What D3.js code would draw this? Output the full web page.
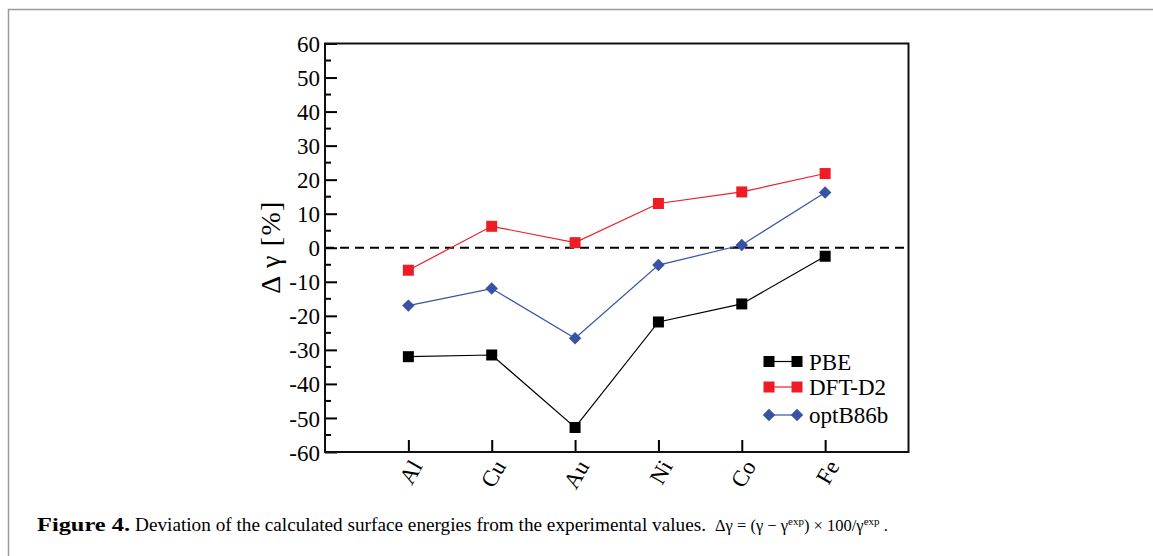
<!DOCTYPE html>
<html>
<head>
<meta charset="utf-8">
<script src="https://cdn.jsdelivr.net/npm/d3@7"></script>
<style>
  body { margin: 0; background: #fff; }
  text { font-family: "Liberation Serif", "Times New Roman", serif; fill: #000; }
</style>
</head>
<body>
<script>
//categories and series values (surface energy deviation, %)
var metals = ["Al", "Cu", "Au", "Ni", "Co", "Fe"];
var pbe = [-32.0, -31.5, -52.8, -21.8, -16.5, -2.5];
var dftD2 = [-6.6, 6.3, 1.5, 13.0, 16.4, 21.8];
var optB86b = [-17.0, -12.0, -26.6, -5.1, 0.8, 16.2];
var yTicks = [-60, -50, -40, -30, -20, -10, 0, 10, 20, 30, 40, 50, 60];

var seriesList = [
    { name: "PBE", values: pbe, color: "#000000", shape: "square" },
    { name: "DFT-D2", values: dftD2, color: "#ee1c25", shape: "square" },
    { name: "optB86b", values: optB86b, color: "#3953a4", shape: "diamond" }
];

var width = 1153, height = 556;
var plot = { left: 325, top: 43.5, right: 908.5, bottom: 452 };

var svg = d3.select("body")
    .append("svg")
    .attr("width", width)
    .attr("height", height);

//figure frame (gray outline)
svg.append("rect")
    .attr("x", 8.5)
    .attr("y", 9.5)
    .attr("width", 1200)
    .attr("height", 600)
    .attr("fill", "none")
    .attr("stroke", "#9a9a9a")
    .attr("stroke-width", 1.5);

var x = d3.scalePoint()
    .domain(metals)
    .range([plot.left, plot.right])
    .padding(1);

var y = d3.scaleLinear()
    .domain([-60, 60])
    .range([plot.bottom, plot.top]);

//zero reference line
svg.append("line")
    .attr("x1", plot.left)
    .attr("x2", plot.right)
    .attr("y1", y(0))
    .attr("y2", y(0))
    .attr("stroke", "#000")
    .attr("stroke-width", 2)
    .attr("stroke-dasharray", "9,6");

//minor y ticks
var minor = d3.range(-55, 60, 10);
svg.selectAll(".minorTick")
    .data(minor)
    .enter()
    .append("line")
    .attr("class", "minorTick")
    .attr("x1", plot.left)
    .attr("x2", plot.left + 6)
    .attr("y1", function(d){ return y(d); })
    .attr("y2", function(d){ return y(d); })
    .attr("stroke", "#000")
    .attr("stroke-width", 2);

//left axis, ticks pointing inward
var yAxis = svg.append("g")
    .attr("transform", "translate(" + plot.left + ",0)")
    .call(d3.axisRight(y)
        .tickValues(yTicks)
        .tickSize(12)
        .tickFormat(function(d){ return String(d); }));
yAxis.select(".domain").remove();
yAxis.selectAll(".tick line").attr("stroke-width", 2);
yAxis.selectAll(".tick text")
    .attr("x", -5)
    .attr("dy", "0.35em")
    .attr("text-anchor", "end")
    .style("font-size", "23px")
    .style("font-family", "Liberation Serif, serif");

//bottom axis, ticks pointing up
var xAxis = svg.append("g")
    .attr("transform", "translate(0," + plot.bottom + ")")
    .call(d3.axisTop(x).tickSize(12).tickFormat(""));
xAxis.select(".domain").remove();
xAxis.selectAll(".tick line").attr("stroke-width", 2);

svg.selectAll(".xLabel")
    .data(metals)
    .enter()
    .append("text")
    .attr("class", "xLabel")
    .attr("text-anchor", "end")
    .attr("transform", function(d){
        return "translate(" + (x(d) + 1) + "," + (plot.bottom + 6) + ") rotate(-60)";
    })
    .attr("dy", "0.7em")
    .style("font-size", "23px")
    .text(function(d){ return d; });

//plot frame
svg.append("rect")
    .attr("x", plot.left)
    .attr("y", plot.top)
    .attr("width", plot.right - plot.left)
    .attr("height", plot.bottom - plot.top)
    .attr("fill", "none")
    .attr("stroke", "#111")
    .attr("stroke-width", 2);

//y axis title
svg.append("text")
    .attr("transform", "translate(280," + y(0) + ") rotate(-90)")
    .attr("text-anchor", "middle")
    .style("font-size", "28px")
    .text("\u0394 \u03b3  [%]")
    .attr("textLength", 92);

var line = d3.line()
    .x(function(d, i){ return x(metals[i]); })
    .y(function(d){ return y(d); });

function drawMarker(g, shape, color, cx, cy){
    if (shape === "square") {
        g.append("rect")
            .attr("x", cx - 5.5)
            .attr("y", cy - 5.5)
            .attr("width", 11)
            .attr("height", 11)
            .attr("fill", color);
    } else {
        g.append("path")
            .attr("d", d3.symbol().type(d3.symbolSquare).size(78)())
            .attr("transform", "translate(" + cx + "," + cy + ") rotate(45)")
            .attr("fill", color);
    }
}

seriesList.forEach(function(s){
    var g = svg.append("g").attr("class", "series");
    g.append("path")
        .datum(s.values)
        .attr("d", line)
        .attr("fill", "none")
        .attr("stroke", s.color)
        .attr("stroke-width", 1.2);
    s.values.forEach(function(v, i){
        drawMarker(g, s.shape, s.color, x(metals[i]), y(v));
    });
});

//legend
var legendY = [361.5, 387, 415];
seriesList.forEach(function(s, i){
    var g = svg.append("g").attr("class", "legend");
    g.append("line")
        .attr("x1", 769).attr("x2", 797)
        .attr("y1", legendY[i]).attr("y2", legendY[i])
        .attr("stroke", s.color)
        .attr("stroke-width", 1.2);
    drawMarker(g, s.shape, s.color, 769, legendY[i]);
    drawMarker(g, s.shape, s.color, 797, legendY[i]);
    g.append("text")
        .attr("x", 809)
        .attr("y", legendY[i])
        .attr("dy", "0.35em")
        .style("font-size", "23px")
        .text(s.name);
});

//caption
function capText(xPos, len, weight, str){
    return svg.append("text")
        .attr("x", xPos)
        .attr("y", 531)
        .attr("textLength", len)
        .attr("lengthAdjust", "spacingAndGlyphs")
        .style("font-size", "18px")
        .style("font-weight", weight)
        .text(str);
}
capText(37, 93, "bold", "Figure 4.");
capText(135, 571, "normal", "Deviation of the calculated surface energies from the experimental values.");

var math = svg.append("text")
    .attr("x", 715)
    .attr("y", 531)
    .style("font-size", "16.5px");
math.append("tspan").text("\u0394\u03b3 = (\u03b3 \u2212 \u03b3");
math.append("tspan").attr("dy", -6).style("font-size", "11px").text("exp");
math.append("tspan").attr("dy", 6).text(") \u00d7 100/\u03b3");
math.append("tspan").attr("dy", -6).style("font-size", "11px").text("exp");
math.append("tspan").attr("dy", 6).text(" .");
</script>
</body>
</html>
